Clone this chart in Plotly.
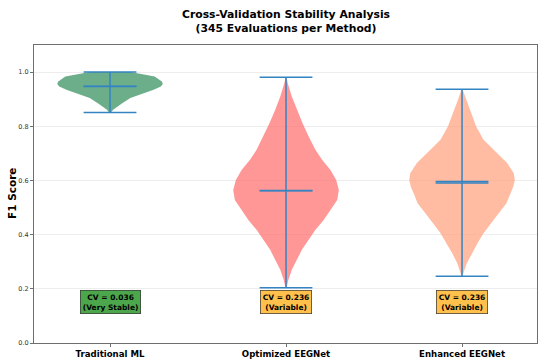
import plotly.graph_objects as go

# ---- data ----
methods = ["Traditional ML", "Optimized EEGNet", "Enhanced EEGNet"]
positions = [0, 1, 2]
mins = [0.851, 0.204, 0.246]
maxs = [1.000, 0.981, 0.937]
means = [0.947, 0.562, 0.591]
medians = [0.948, 0.563, 0.596]
cv_values = [0.036, 0.236, 0.236]
cv_labels = ["Very Stable", "Variable", "Variable"]

# density profiles (F1 level, relative density) estimated from the violin outlines
trad_y = [1.000, 0.998, 0.984, 0.965, 0.956, 0.947, 0.935, 0.922, 0.904, 0.885, 0.873, 0.861, 0.851]
trad_d = [20, 24, 44, 51, 52, 50, 43, 34, 20, 12, 7, 3, 1]
opt_y = [0.981, 0.959, 0.910, 0.861, 0.812, 0.763, 0.714, 0.676, 0.639, 0.602, 0.565,
         0.528, 0.491, 0.454, 0.417, 0.380, 0.344, 0.307, 0.270, 0.233, 0.204]
opt_d = [0.5, 1.7, 5.7, 10.7, 16.3, 22.3, 29, 35.7, 44, 49.7, 52.3,
         50.7, 44, 37.3, 29, 22.3, 15.7, 10.7, 5.7, 2.3, 0.5]
enh_y = [0.937, 0.935, 0.898, 0.849, 0.799, 0.750, 0.701, 0.664, 0.627, 0.602, 0.577,
         0.547, 0.516, 0.479, 0.442, 0.405, 0.368, 0.331, 0.294, 0.257, 0.246]
enh_d = [0.5, 0.7, 4, 8.7, 14, 21.3, 34.7, 44.7, 51.3, 52.3, 50.7,
         47.3, 44, 36.3, 28.7, 21.3, 15.3, 9.7, 4.7, 1.3, 0.5]

profiles = [(trad_y, trad_d), (opt_y, opt_d), (enh_y, enh_d)]
fill_colors = ["rgba(46,139,87,0.7)", "rgba(255,107,107,0.7)", "rgba(255,160,122,0.7)"]
box_colors = ["rgba(0,128,0,0.7)", "rgba(255,165,0,0.7)", "rgba(255,165,0,0.7)"]

VIOLIN_WIDTH = 0.6
LINE_COLOR = "rgb(52,132,194)"
FONT = "DejaVu Sans"

fig = go.Figure()

for pos, (ys, ds), fc in zip(positions, profiles, fill_colors):
    mx = max(ds)
    hw = [d / mx * VIOLIN_WIDTH / 2 for d in ds]
    xs = [pos + h for h in hw] + [pos - h for h in reversed(hw)]
    yy = list(ys) + list(reversed(ys))
    fig.add_trace(go.Scatter(x=xs, y=yy, fill="toself", fillcolor=fc,
                             mode="lines", line=dict(width=0, color=fc),
                             hoverinfo="skip", showlegend=False))

cap = VIOLIN_WIDTH / 4
for pos, lo, hi, mn, md in zip(positions, mins, maxs, means, medians):
    fig.add_trace(go.Scatter(x=[pos, pos], y=[lo, hi], mode="lines",
                             line=dict(color=LINE_COLOR, width=1.5),
                             hoverinfo="skip", showlegend=False))
    for yv in (lo, hi, mn, md):
        fig.add_trace(go.Scatter(x=[pos - cap, pos + cap], y=[yv, yv], mode="lines",
                                 line=dict(color=LINE_COLOR, width=1.5),
                                 hoverinfo="skip", showlegend=False))

for pos, cv, lab, bc in zip(positions, cv_values, cv_labels, box_colors):
    fig.add_annotation(x=pos, y=0.15, xref="x", yref="y",
                       text=f"<b>CV = {cv:.3f}<br>({lab})</b>",
                       showarrow=False, align="center",
                       font=dict(family=FONT, size=7.5, color="black"),
                       bgcolor=bc, bordercolor="rgba(0,0,0,0.7)", borderwidth=0.8,
                       borderpad=2)

# title as a paper-anchored annotation
fig.add_annotation(x=0.5, xref="paper", y=1 + 39 / 298, yref="paper",
                   xanchor="center", yanchor="top", showarrow=False, align="center",
                   text="<b>Cross-Validation Stability Analysis<br>(345 Evaluations per Method)</b>",
                   font=dict(family=FONT, size=10.8, color="black"))

# y-axis title placed like the reference
fig.add_annotation(x=(12 - 34) / 503, xref="paper", y=0.5, yref="paper",
                   xanchor="center", yanchor="middle", showarrow=False, textangle=-90,
                   text="<b>F1 Score</b>", font=dict(family=FONT, size=10.5, color="black"))

fig.update_layout(
    width=550, height=364, autosize=False,
    margin=dict(l=34, r=13, t=45, b=21, autoexpand=False),
    paper_bgcolor="white", plot_bgcolor="white",
    font=dict(family=FONT, color="#222"),
    showlegend=False,
)
fig.update_xaxes(range=[-0.432, 2.426], tickvals=positions,
                 ticktext=[f"<b>{m}</b>" for m in methods],
                 tickfont=dict(family=FONT, size=8.6, color="black"),
                 showline=True, mirror=True, linecolor="#6e6e6e", linewidth=1,
                 ticks="outside", ticklen=3, tickcolor="#6e6e6e",
                 showgrid=False, zeroline=False, automargin=False)
fig.update_yaxes(range=[0, 1.1], tickvals=[0, 0.2, 0.4, 0.6, 0.8, 1.0], tickformat=".1f",
                 tickfont=dict(family=FONT, size=6.5, color="#333"),
                 showline=True, mirror=True, linecolor="#6e6e6e", linewidth=1,
                 ticks="outside", ticklen=3, tickcolor="#6e6e6e",
                 showgrid=True, gridcolor="#ededed", gridwidth=0.8, zeroline=False,
                 automargin=False)

fig.write_html("out.html", config={"displayModeBar": False},
               post_script="document.body.style.margin='0';document.body.style.padding='0';")
